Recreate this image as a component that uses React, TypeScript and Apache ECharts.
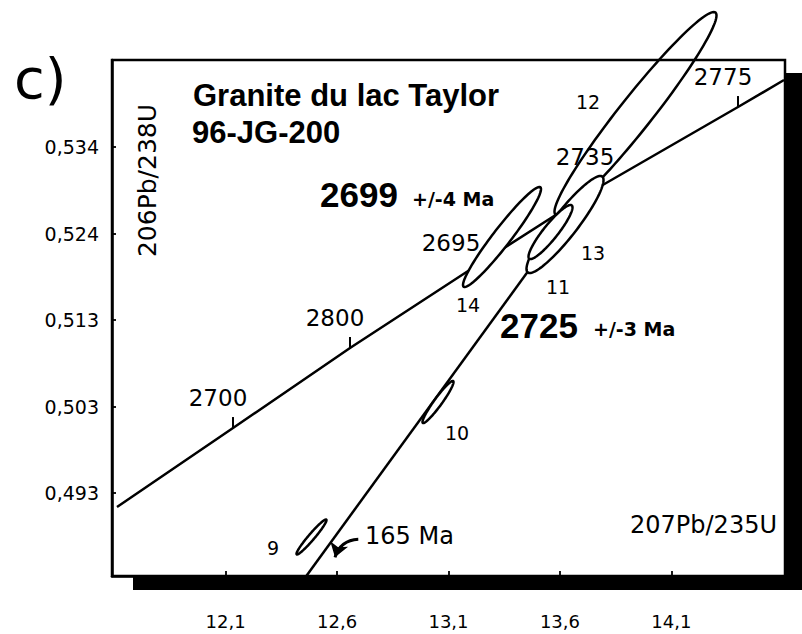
import React, { useEffect, useRef } from 'react';
import * as echarts from 'echarts';

// Axes
const X_MIN = 11.59;
const X_MAX = 14.61;
const Y_MIN = 0.4832;
const Y_MAX = 0.5443;
const xTickValues = [12.1, 12.6, 13.1, 13.6, 14.1];
const xTickLabels = ['12,1', '12,6', '13,1', '13,6', '14,1'];
const yTickValues = [0.493, 0.50325, 0.5135, 0.52375, 0.534];
const yTickLabels = ['0,493', '0,503', '0,513', '0,524', '0,534'];

// Concordia curve (207Pb/235U, 206Pb/238U)
const concordia = [
  [11.6124, 0.49137],
  [12.133, 0.50072],
  [12.658, 0.5102],
  [13.174, 0.51908],
  [13.7843, 0.52938],
  [14.3991, 0.53873],
  [14.6055, 0.54193],
];
// Discordia line
const discordia = [
  [12.462, 0.4832],
  [13.6766, 0.52725],
];
// Age marks on the concordia
const concordiaAges = ['2700', '2800', '2695', '2735', '2775'];
const concordiaAgeX = [12.133, 12.658, 13.1785, 13.7798, 14.3991];
const concordiaAgeY = [0.50072, 0.5102, 0.51908, 0.52926, 0.53873];
const concordiaTickShown = [true, true, false, false, true];

// Error ellipses: [centre x, centre y, sigma x, sigma y, rho]
const ellipseIds = ['12', '14', '13', '11', '10', '9'];
const ellipses = [
  [13.9391, 0.53796, 0.3635, 0.01202, 0.966],
  [13.3401, 0.52334, 0.175, 0.00592, 0.958],
  [13.6228, 0.52482, 0.1728, 0.00574, 0.915],
  [13.5577, 0.52393, 0.0987, 0.0032, 0.91],
  [13.0529, 0.5038, 0.0696, 0.00249, 0.95],
  [12.4852, 0.48782, 0.0673, 0.00207, 0.964],
];
// Analysis number labels
const pointLabelX = [13.726, 13.1875, 13.7484, 13.5913, 13.1381, 12.3125];
const pointLabelY = [0.53933, 0.51529, 0.52145, 0.51742, 0.50013, 0.48651];

// Titles
const titleLines = ['Granite du lac Taylor', '96-JG-200'];
const titleX = [11.9535, 11.949];
const titleY = [0.54004, 0.53566];
// Intercept ages
const interceptAges = ['2699', '2725'];
const interceptX = [12.5234, 13.3311];
const interceptY = [0.52837, 0.51292];
const interceptErrors = ['+/-4 Ma', '+/-3 Ma'];
const interceptErrX = [12.9362, 13.7484];
const interceptErrY = [0.52784, 0.51239];
// Axis titles
const yAxisTitle = { text: '206Pb/238U', x: 11.7515, y: 0.53003 };
const xAxisTitle = { text: '207Pb/235U', x: 14.5741, y: 0.48924 };
// Lower intercept
const lowerIntercept = { text: '165 Ma', x: 12.7253, y: 0.48794 };
const lowerArrow = [
  [12.6952, 0.48755],
  [12.5907, 0.48541],
];

const REG = 'DejaVu Sans';
const BOLD = '"Liberation Sans", Arial, sans-serif';

function labelPoint(x: number, y: number, text: string, label: any) {
  return {
    value: [x, y],
    label: { show: true, position: 'inside', formatter: text, color: '#000', opacity: 1, textBorderWidth: 0, ...label },
  };
}

export default function App() {
  const ref = useRef<HTMLDivElement>(null);
  useEffect(() => {
    document.body.style.margin = '0';
    const chart = echarts.init(ref.current!, null, { renderer: 'svg' });

    const annotations: any[] = [];
    titleLines.forEach((t, i) =>
      annotations.push(
        labelPoint(titleX[i], titleY[i], t, { align: 'left', verticalAlign: 'middle', fontFamily: BOLD, fontWeight: 'bold', fontSize: 31 })
      )
    );
    interceptAges.forEach((t, i) =>
      annotations.push(
        labelPoint(interceptX[i], interceptY[i], t, { align: 'left', verticalAlign: 'middle', fontFamily: BOLD, fontWeight: 'bold', fontSize: 35 })
      )
    );
    interceptErrors.forEach((t, i) =>
      annotations.push(
        labelPoint(interceptErrX[i], interceptErrY[i], t, { align: 'left', verticalAlign: 'middle', fontFamily: REG, fontWeight: 'bold', fontSize: 19 })
      )
    );
    annotations.push(
      labelPoint(yAxisTitle.x, yAxisTitle.y, yAxisTitle.text, { align: 'center', verticalAlign: 'middle', rotate: 90, fontFamily: REG, fontSize: 25 })
    );
    annotations.push(
      labelPoint(xAxisTitle.x, xAxisTitle.y, xAxisTitle.text, { align: 'right', verticalAlign: 'middle', fontFamily: REG, fontSize: 24 })
    );
    annotations.push(
      labelPoint(lowerIntercept.x, lowerIntercept.y, lowerIntercept.text, { align: 'left', verticalAlign: 'middle', fontFamily: REG, fontSize: 24 })
    );
    ellipseIds.forEach((t, i) =>
      annotations.push(
        labelPoint(pointLabelX[i], pointLabelY[i], t, { align: 'center', verticalAlign: 'middle', fontFamily: REG, fontSize: 19 })
      )
    );

    const ticks: number[][] = [];
    concordiaAgeX.forEach((x, i) => {
      if (concordiaTickShown[i]) ticks.push([x, concordiaAgeY[i]]);
    });

    const option: any = {
      animation: false,
      backgroundColor: '#fff',
      grid: { left: 112, top: 60, width: 673, height: 516, show: false },
      xAxis: {
        type: 'value',
        min: X_MIN,
        max: X_MAX,
        axisLine: { show: true, onZero: false, lineStyle: { color: '#000', width: 2.5 } },
        axisTick: { show: true, inside: true, length: 5, lineStyle: { color: '#000', width: 1.8 }, customValues: xTickValues },
        axisLabel: {
          customValues: xTickValues,
          margin: 36,
          color: '#000',
          fontFamily: REG,
          fontSize: 18,
          formatter: (v: number) => {
            const i = xTickValues.findIndex((t) => Math.abs(t - v) < 1e-6);
            return i >= 0 ? xTickLabels[i] : '';
          },
        },
        splitLine: { show: false },
      },
      yAxis: {
        type: 'value',
        min: Y_MIN,
        max: Y_MAX,
        axisLine: { show: true, onZero: false, lineStyle: { color: '#000', width: 2.5 } },
        axisTick: { show: true, inside: true, length: 4, lineStyle: { color: '#000', width: 1.8 }, customValues: yTickValues },
        axisLabel: {
          customValues: yTickValues,
          margin: 13,
          color: '#000',
          fontFamily: REG,
          fontSize: 19,
          formatter: (v: number) => {
            const i = yTickValues.findIndex((t) => Math.abs(t - v) < 1e-6);
            return i >= 0 ? yTickLabels[i] : '';
          },
        },
        splitLine: { show: false },
      },
      graphic: [
        { type: 'rect', z: 0, shape: { x: 133, y: 576, width: 669, height: 14 }, style: { fill: '#000' } },
        { type: 'rect', z: 0, shape: { x: 784, y: 73, width: 18, height: 517 }, style: { fill: '#000' } },
        { type: 'rect', z: 100, shape: { x: 112, y: 60, width: 673, height: 516 }, style: { fill: 'none', stroke: '#000', lineWidth: 2.5 } },
        { type: 'text', z: 100, x: 14, y: 78, style: { text: 'c)', font: '56px "DejaVu Sans"', fill: '#000', verticalAlign: 'middle', align: 'left' } },
      ],
      series: [
        {
          type: 'line',
          data: concordia,
          symbol: 'none',
          lineStyle: { color: '#000', width: 2.5, opacity: 1 },
          z: 2,
          silent: true,
        },
        {
          type: 'line',
          data: discordia,
          symbol: 'none',
          lineStyle: { color: '#000', width: 2.5, opacity: 1 },
          z: 2,
          silent: true,
        },
        {
          type: 'scatter',
          data: ticks,
          symbol: 'rect',
          symbolSize: [2, 11],
          symbolOffset: [0, -5.5],
          itemStyle: { color: '#000', opacity: 1 },
          z: 2,
          silent: true,
        },
        {
          type: 'custom',
          clip: false,
          z: 3,
          silent: true,
          data: ellipses,
          encode: { x: 0, y: 1 },
          renderItem: (params: any, api: any) => {
            const cx = api.value(0);
            const cy = api.value(1);
            const sx = api.value(2);
            const sy = api.value(3);
            const rho = api.value(4);
            const k = Math.sqrt(1 - rho * rho);
            const pts: number[][] = [];
            for (let j = 0; j < 120; j++) {
              const t = (j / 120) * Math.PI * 2;
              const x = cx + sx * Math.cos(t);
              const y = cy + sy * (rho * Math.cos(t) + k * Math.sin(t));
              pts.push(api.coord([x, y]));
            }
            return {
              type: 'polygon',
              shape: { points: pts },
              style: { fill: '#fff', stroke: '#000', lineWidth: 2.5 },
            };
          },
        },
        {
          type: 'scatter',
          data: concordiaAgeX.map((x, i) => ({ value: [x, concordiaAgeY[i]], name: concordiaAges[i] })),
          symbolSize: 1,
          itemStyle: { color: 'rgba(0,0,0,0)', opacity: 1 },
          z: 5,
          silent: true,
          label: {
            show: true,
            position: 'inside',
            offset: [-15, -30],
            formatter: (p: any) => p.name,
            color: '#000',
            opacity: 1,
            textBorderWidth: 0,
            fontFamily: REG,
            fontSize: 23,
          },
        },
        {
          type: 'scatter',
          data: annotations,
          symbolSize: 1,
          itemStyle: { color: 'rgba(0,0,0,0)', opacity: 1 },
          z: 5,
          clip: false,
          silent: true,
        },
        {
          type: 'lines',
          coordinateSystem: 'cartesian2d',
          z: 4,
          silent: true,
          symbol: ['none', 'arrow'],
          symbolSize: 14,
          lineStyle: { color: '#000', width: 3, curveness: -0.35, opacity: 1 },
          data: [{ coords: lowerArrow }],
        },
      ],
    };
    chart.setOption(option);
    return () => chart.dispose();
  }, []);
  return <div ref={ref} style={{ width: 802, height: 634, background: '#fff' }} />;
}
